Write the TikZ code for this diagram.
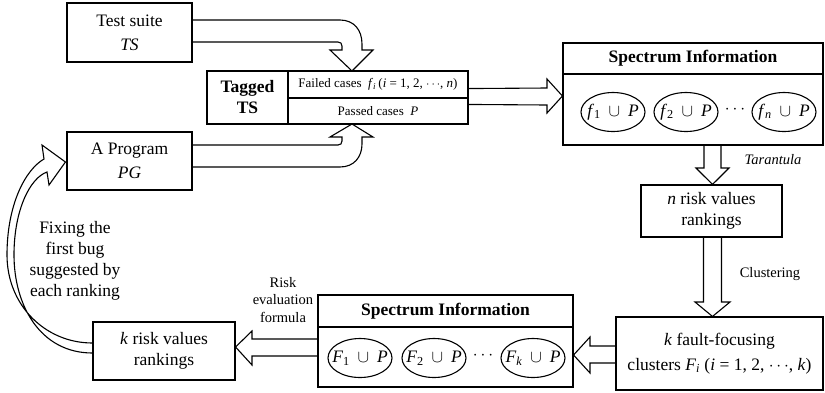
\documentclass[tikz,border=0pt]{standalone}
\usepackage{fontspec}
\setmainfont{Liberation Serif}
\usetikzlibrary{shapes.geometric,calc}
\newcommand{\mainsz}{\fontsize{17.5}{21}\selectfont}
\newcommand{\smallsz}{\fontsize{14.5}{17.5}\selectfont}
\newcommand{\cellsz}{\fontsize{13}{16}\selectfont}
% a set "X_j u P" set on a zero-width box, so the ellipse keeps its fixed size
\newcommand{\cupset}[2]{\makebox[0pt]{\textit{#1}\textsubscript{#2}\hspace{0.45em}$\cup$\hspace{0.45em}\textit{P}}}
\begin{document}
\begin{tikzpicture}[x=1pt,y=-1pt,line width=1.1pt,
  box/.style={draw,rectangle,inner sep=0pt,align=center,font=\mainsz},
  cell/.style={draw,rectangle,inner sep=0pt,align=center,font=\cellsz},
  title/.style={draw,rectangle,inner sep=0pt,font=\mainsz\bfseries},
  set/.style={draw,ellipse,inner sep=0pt,minimum width=64,minimum height=39,font=\mainsz},
  lbl/.style={inner sep=0pt,align=center,font=\smallsz},
  fat/.style={draw,line width=1.1pt,line join=miter}]
\useasboundingbox (0,0) rectangle (825,392);

% input boxes
\node[box,minimum width=125,minimum height=59] (ts) at (129.5,32.5) {Test suite\\[3pt]\textit{TS}};
\node[box,minimum width=125,minimum height=58] (pg) at (129.5,161) {A Program\\[3pt]\textit{PG}};

% tagged test suite
\node[box,minimum width=81,minimum height=53,font=\mainsz\bfseries] (tag) at (247.5,97.5) {Tagged\\TS};
\node[cell,minimum width=180,minimum height=27] (failed) at (378,84.5)
  {Failed cases\enspace\textit{f}\textsubscript{\textit{i}}\,(\textit{i} = 1, 2, $\cdots$, \textit{n})};
\node[cell,minimum width=180,minimum height=26] (passed) at (378,111) {Passed cases\enspace\textit{P}};

% spectrum of the n failed cases
\node[title,minimum width=260,minimum height=31] (spec1t) at (693,58.5) {Spectrum Information};
\node[draw,rectangle,minimum width=260,minimum height=71] (spec1b) at (693,109.5) {};
\node[set] (f1) at (613,112) {\cupset{f}{1}};
\node[set] (f2) at (686,112) {\cupset{f}{2}};
\node[set] (fn) at (784,112) {\cupset{f}{\textit{n}}};
\node[font=\mainsz] (dots1) at (735,110) {$\cdots$};

% rankings and clusters
\node[box,minimum width=141,minimum height=52] (nrank) at (711.5,211) {\textit{n} risk values\\rankings};
\node[box,minimum width=207,minimum height=73] (kfault) at (719.5,353.5)
  {\textit{k} fault-focusing\\[4pt]clusters \textit{F}\textsubscript{\textit{i}} (\textit{i} = 1, 2, $\cdots$, \textit{k})};

% spectrum of the k clusters
\node[title,minimum width=255,minimum height=32] (spec2t) at (445.5,311) {Spectrum Information};
\node[draw,rectangle,minimum width=255,minimum height=60] (spec2b) at (445.5,357) {};
\node[set] (F1) at (360,358) {\cupset{F}{1}};
\node[set] (F2) at (434,358) {\cupset{F}{2}};
\node[set] (Fk) at (533,358) {\cupset{F}{\textit{k}}};
\node[font=\mainsz] (dots2) at (483,356) {$\cdots$};

\node[box,minimum width=142,minimum height=58] (krank) at (164,351) {\textit{k} risk values\\rankings};

% arrow labels
\node[lbl,font=\smallsz\itshape] (tar) at (773,160) {Tarantula};
\node[lbl] (clu) at (770,274) {Clustering};
\node[lbl] (risk) at (283,300) {Risk\\evaluation\\formula};
\node[inner sep=0pt,align=center,font=\mainsz] (fix) at (75,261) {Fixing the\\first bug\\suggested by\\each ranking};

% hollow arrows
\coordinate (tsTip) at (352,71);
\coordinate (pgTip) at (352,124);
\draw[fat] ($(ts.east)+(0,-12.5)$) -- (340,20) .. controls (354,20) and (362,30) .. (362,44)
  -- (362,50) -- (373,50) -- (tsTip) -- (330,50) -- (342,50) -- (342,46)
  .. controls (342,43.5) and (340.5,42) .. (338,42) -- ($(ts.east)+(0,9.5)$);
\draw[fat] ($(pg.east)+(0,6)$) -- (340,167) .. controls (354,167) and (362,157) .. (362,144)
  -- (362,137) -- (373,137) -- (pgTip) -- (330,137) -- (342,137) -- (342,141)
  .. controls (342,143.5) and (340.5,145) .. (338,145) -- ($(pg.east)+(0,-16)$);
\draw[fat] ($(failed.south east)+(0,-10)$) -- (547,88) -- (547,79) -- ($(spec1b.west)+(0,-13.5)$)
  -- (547,113) -- (547,105) -- ($(passed.north east)+(0,7)$);
\draw[fat] (704,145) -- (704,168) -- (696,168) -- ($(nrank.north)+(1,0)$) -- (729,168) -- (721,168) -- (721,145);
\draw[fat] (703.5,237) -- (703.5,302) -- (695,302) -- ($(kfault.north)+(-7,0)$) -- (730,302) -- (721.5,302) -- (721.5,237);
\draw[fat] ($(kfault.west)+(0,-7.5)$) -- (590,346) -- (590,337) -- ($(spec2b.east)+(0,-2)$) -- (590,373) -- (590,363) -- ($(kfault.west)+(0,9.5)$);
\draw[fat] ($(spec2b.west)+(0,-18)$) -- (252,339) -- (252,331) -- ($(krank.east)+(0,-4)$) -- (252,365) -- (252,356) -- ($(spec2b.west)+(0,-1)$);
\draw[fat] ($(krank.west)+(0,-8)$) .. controls (45,343) and (7,305) .. (7,255)
  .. controls (7,205) and (25,170) .. (44,159) -- (42,145) -- ($(pg.west)+(-1,1)$) -- (49,185) -- (47,172)
  .. controls (30,178) and (14,210) .. (14,255) .. controls (14,305) and (40,353) .. ($(krank.west)+(0,2)$);
\end{tikzpicture}
\end{document}
